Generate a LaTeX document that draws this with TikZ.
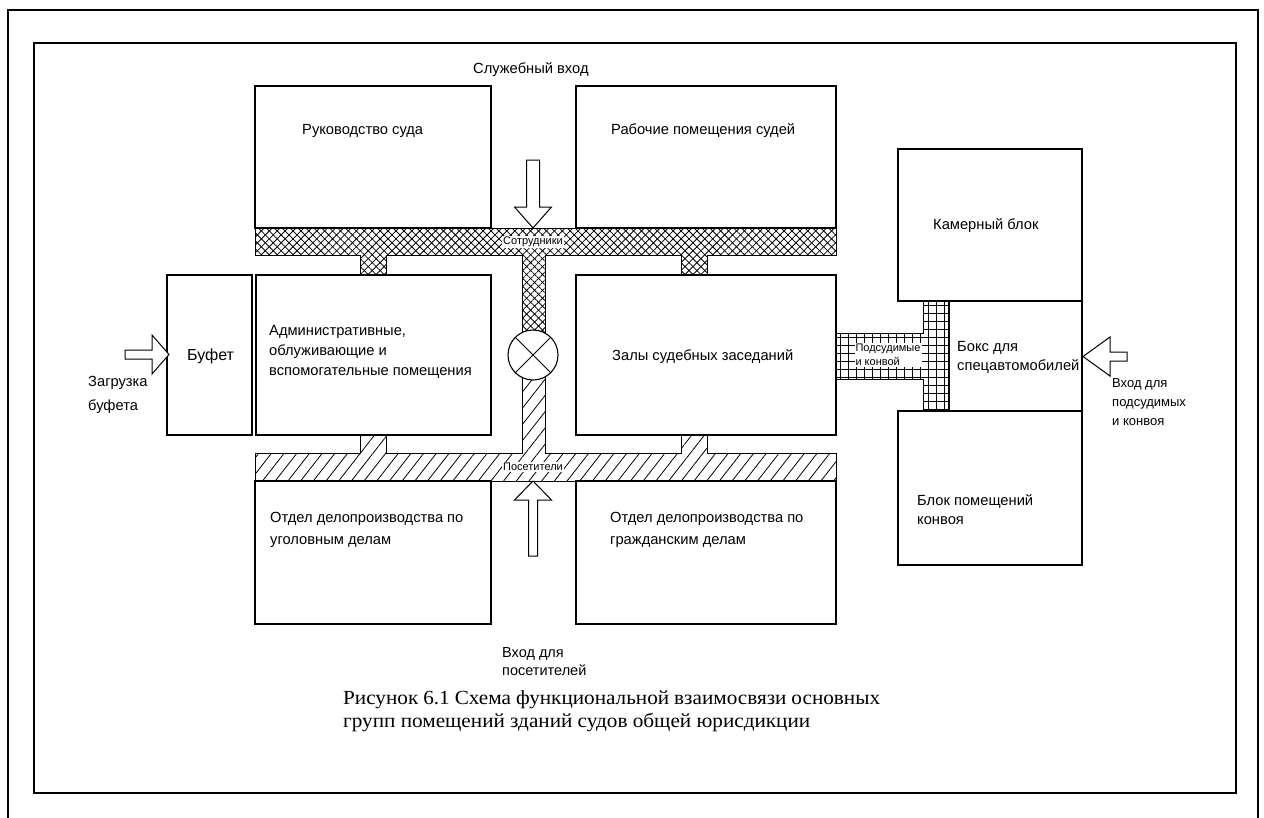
\documentclass[tikz,border=0pt]{standalone}
\usepackage{fontspec}
\setmainfont{Liberation Sans}
\newfontfamily\capfont[FakeStretch=1.06]{Liberation Serif}
\usetikzlibrary{patterns.meta}
\begin{document}
\begin{tikzpicture}[x=1pt,y=-1pt,
  room/.style={draw=black,line width=1.1pt},
  lbl/.style={anchor=west,inner sep=0pt,align=left,font=\fontsize{14.7}{20}\selectfont},
  outl/.style={anchor=west,inner sep=0pt,align=left,font=\fontsize{13}{19}\selectfont},
  small/.style={inner sep=1pt,fill=white,font=\fontsize{11}{13}\selectfont},
  blockarrow/.style={draw=black,line width=1pt,fill=white,line join=miter},
  crossA/.style={pattern={Lines[angle=45,distance=5.6pt,line width=0.8pt]}},
  crossB/.style={pattern={Lines[angle=-45,distance=5.6pt,line width=0.8pt]}},
  diag/.style={pattern={Lines[angle=52,distance=10pt,line width=0.8pt]}},
  gridH/.style={pattern={Lines[angle=0,distance=8pt,line width=0.7pt]}},
  gridV/.style={pattern={Lines[angle=90,distance=8pt,line width=0.7pt]}}]
\useasboundingbox (0,0) rectangle (1264,817);
\clip (0,0) rectangle (1264,817);
\fill[white] (0,0) rectangle (1264,817);
% frames
\draw[line width=2pt] (8,840) -- (8,10) -- (1258,10) -- (1258,840);
\draw[line width=1.2pt] (34,43) rectangle (1236,793);
% top corridor (staff)
\def\topcor{(255,228) -- (836,228) -- (836,255) -- (707,255) -- (707,275) -- (681,275) -- (681,255) -- (545,255) -- (545,335) -- (522,335) -- (522,255) -- (386,255) -- (386,275) -- (360,275) -- (360,255) -- (255,255) -- cycle}
\path[crossA] \topcor;
\path[crossB] \topcor;
\draw[line width=1pt] \topcor;
% bottom corridor (visitors)
\def\botcor{(255,453) -- (360,453) -- (360,435) -- (386,435) -- (386,453) -- (522,453) -- (522,375) -- (545,375) -- (545,453) -- (681,453) -- (681,435) -- (707,435) -- (707,453) -- (836,453) -- (836,481) -- (255,481) -- cycle}
\path[diag] \botcor;
\draw[line width=1pt] \botcor;
% detainee corridor
\def\gridcor{(836,333) -- (923,333) -- (923,301) -- (949,301) -- (949,411) -- (923,411) -- (923,379) -- (836,379) -- cycle}
\path[gridH] \gridcor;
\path[gridV] \gridcor;
\draw[line width=1pt] \gridcor;
% rooms
\draw[room] (255,86) rectangle (491,228);
\draw[room] (576,86) rectangle (836,228);
\draw[room] (167,275) rectangle (252,435);
\draw[room] (256,275) rectangle (491,435);
\draw[room] (576,275) rectangle (836,435);
\draw[room] (255,481) rectangle (491,624);
\draw[room] (576,481) rectangle (836,624);
\draw[room] (898,149) rectangle (1082,301);
\draw[room] (949,301) rectangle (1082,411);
\draw[room] (898,411) rectangle (1082,565);
% control point
\draw[room,fill=white] (533,355) circle (25pt);
\draw[line width=1pt] (515.3,337.3) -- (550.7,372.7) (550.7,337.3) -- (515.3,372.7);
% block arrows
\draw[blockarrow] (526.5,160) -- (539.5,160) -- (539.5,207) -- (551.5,207) -- (533,228) -- (514.5,207) -- (526.5,207) -- cycle;
\draw[blockarrow] (528.5,556) -- (537.5,556) -- (537.5,500) -- (551.5,500) -- (533,481) -- (514.5,500) -- (528.5,500) -- cycle;
\draw[blockarrow] (125,350) -- (152,350) -- (152,335) -- (169,354.5) -- (152,374) -- (152,359) -- (125,359) -- cycle;
\draw[blockarrow] (1127,352) -- (1110,352) -- (1110,337) -- (1083,356.5) -- (1110,376) -- (1110,361) -- (1127,361) -- cycle;
% labels
\node[lbl] (ruk) at (302,131) {Руководство суда};
\node[lbl] (rab) at (611,131) {Рабочие помещения судей};
\node[lbl,font=\fontsize{16}{18}\selectfont] (buf) at (187,356) {Буфет};
\node[lbl] (adm) at (269,352) {Административные,\\облуживающие и\\вспомогательные помещения};
\node[lbl] (zal) at (612,357) {Залы судебных заседаний};
\node[lbl,font=\fontsize{14.7}{22}\selectfont] (ugo) at (270,530) {Отдел делопроизводства по\\уголовным делам};
\node[lbl,font=\fontsize{14.7}{22}\selectfont] (gra) at (610,530) {Отдел делопроизводства по\\гражданским делам};
\node[lbl] (kam) at (933,226) {Камерный блок};
\node[lbl,font=\fontsize{14.7}{19}\selectfont] (box) at (957,357) {Бокс для\\спецавтомобилей};
\node[lbl,font=\fontsize{14.7}{19}\selectfont] (kon) at (917,510) {Блок помещений\\конвоя};
\node[lbl] (slu) at (473,70) {Служебный вход};
\node[lbl,font=\fontsize{14.7}{24}\selectfont] (zag) at (88,395) {Загрузка\\буфета};
\node[outl] (vpod) at (1112,402) {Вход для\\подсудимых\\и конвоя};
\node[lbl,font=\fontsize{14.5}{18}\selectfont] (vpos) at (502,662) {Вход для\\посетителей};
\node[small] (sotr) at (533,242) {Сотрудники};
\node[small] (posl) at (533,467) {Посетители};
\node[small,align=left,font=\fontsize{11}{14}\selectfont] (podk) at (888,355) {Подсудимые\\и конвой};
\node[anchor=north west,inner sep=0pt,align=left,font=\capfont\fontsize{20}{23}\selectfont] (cap) at (343,690) {\makebox[537pt][s]{Рисунок 6.1 Схема функциональной взаимосвязи основных}\\групп помещений зданий судов общей юрисдикции};
\end{tikzpicture}
\end{document}
